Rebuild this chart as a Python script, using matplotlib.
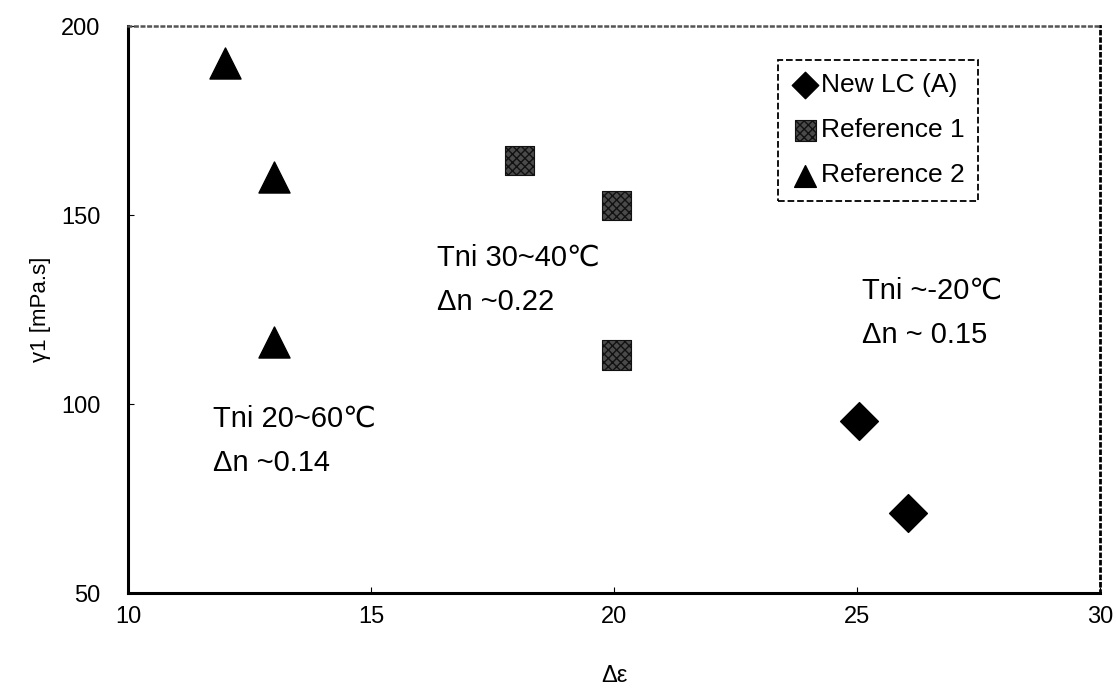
import matplotlib
matplotlib.use("Agg")
import matplotlib.pyplot as plt

plt.rcParams['font.family'] = ['Liberation Sans', 'DejaVu Sans']

# data
new_lc_x = [25.05, 26.05]
new_lc_y = [95.5, 71.2]
ref1_x = [18.05, 20.05, 20.05]
ref1_y = [164.5, 152.5, 113]
ref2_x = [12, 13, 13]
ref2_y = [190.2, 160, 116.4]

x_ticks = [10, 15, 20, 25, 30]
y_ticks = [50, 100, 150, 200]

fig = plt.figure(figsize=(11.16, 6.91), dpi=100)
ax = fig.add_axes([0.1147, 0.1418, 0.871, 0.8205])

ax.scatter(new_lc_x, new_lc_y, marker="D", s=370, color="black", label="New LC (A)", zorder=3)
ax.scatter(ref1_x, ref1_y, marker="s", s=450, facecolor="#4a4a4a", edgecolor="#111111",
           hatch="xxxx", linewidth=0.8, label="Reference 1", zorder=3)
ax.scatter(ref2_x, ref2_y, marker="^", s=500, color="black", label="Reference 2", zorder=3)

ax.set_xlim(10, 30)
ax.set_ylim(50, 200)
ax.set_xticks(x_ticks)
ax.set_yticks(y_ticks)
ax.tick_params(axis="y", labelsize=17, direction="in", length=4, pad=20)
ax.tick_params(axis="x", labelsize=17, direction="in", length=4, pad=9)

ax.set_xlabel("Δε", fontsize=17, labelpad=27)
ax.set_ylabel("γ1 [mPa.s]", fontsize=16, labelpad=7)

ax.spines["left"].set_linewidth(2.2)
ax.spines["bottom"].set_linewidth(2.2)
ax.spines["top"].set_color("#555555")
ax.spines["top"].set_linestyle(":")
ax.spines["top"].set_linewidth(1.8)
ax.spines["right"].set_linestyle(":")
ax.spines["right"].set_linewidth(2)

ann = dict(fontsize=21, ha="left", va="center", linespacing=1.75)
ax.text(11.75, 90.2, "Tni 20~60℃\nΔn ~0.14", **ann)
ax.text(16.36, 132.8, "Tni 30~40℃\nΔn ~0.22", **ann)
ax.text(25.1, 124.1, "Tni ~-20℃\nΔn ~ 0.15", **ann)

leg = ax.legend(loc="upper right", bbox_to_anchor=(0.8745, 0.94), borderaxespad=0,
                fontsize=19, handletextpad=0.05, handlelength=1.1, borderpad=0.5,
                labelspacing=0.8, fancybox=False, framealpha=1, markerscale=0.7)
leg.get_frame().set_edgecolor("black")
leg.get_frame().set_linestyle("--")
leg.get_frame().set_linewidth(1.3)

fig.savefig("out.png", dpi=100)
